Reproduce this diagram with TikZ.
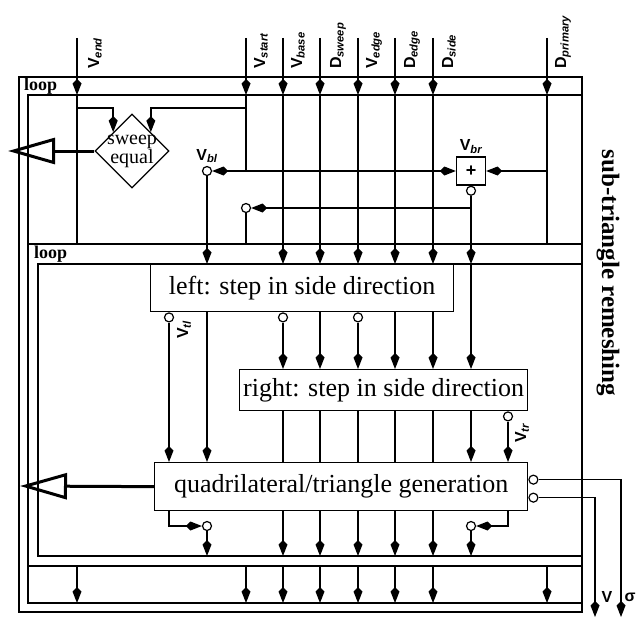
\documentclass[tikz,border=0pt]{standalone}
\usepackage{fontspec}
\setmainfont{Liberation Serif}
\setsansfont{Liberation Sans}
\usetikzlibrary{arrows.meta,positioning,shapes.geometric}

\newcommand{\sig}[2]{#1\textsubscript{\itshape #2}}

\begin{document}
\begin{tikzpicture}[
  x=1pt, y=-1pt,
  box/.style={draw, line width=1.3pt, anchor=north west, inner sep=0pt,
              font=\fontsize{26}{28}\selectfont},
  bubble/.style={draw, circle, fill=white, line width=1.2pt, minimum size=9pt,
                 inner sep=0pt},
  wire/.style={line width=1.4pt},
  arrow/.style={wire, -{Kite[length=16pt, width=9pt, inset=4.5pt]}},
  loopframe/.style={line width=1.4pt},
  outarrow/.style={line width=3pt, -{Triangle[open, length=47pt, width=26pt]}},
  sig/.style={font=\fontsize{16}{18}\selectfont\sffamily\bfseries, inner sep=0pt},
  inlabel/.style={sig, rotate=90, anchor=base west},
  looplabel/.style={font=\fontsize{18}{18}\selectfont\bfseries, inner sep=0pt,
                    anchor=west}
]
\useasboundingbox (0,0) rectangle (636,618);

% input columns and rows
\coordinate (inEnd)   at (77,38);
\coordinate (inStart) at (246,38);
\coordinate (inBase)  at (283,38);
\coordinate (inSweep) at (320,38);
\coordinate (inVedge) at (358,38);
\coordinate (inDedge) at (395,38);
\coordinate (inSide)  at (433,38);
\coordinate (inPrim)  at (547,38);
\coordinate (colTl) at (169,0);
\coordinate (colTr) at (508,0);
\coordinate (bandA) at (0,95);
\coordinate (bandB) at (0,244);
\coordinate (bandC) at (0,264);
\coordinate (bandD) at (0,556);
\coordinate (bandE) at (0,566);
\coordinate (bandF) at (0,603);
\coordinate (rowSw) at (0,108);
\coordinate (rowLv) at (0,208);
\coordinate (rowQ)  at (0,526);

% loop frames
\coordinate (outerNW) at (19,77);
\coordinate (outerSE) at (582,612);
\coordinate (bodyA) at (28,95);
\coordinate (bodyB) at (38,264);
\draw[loopframe] (outerNW) rectangle (outerSE);
\draw[loopframe] (outerSE |- bandA) -- (bodyA) -- (bodyA |- bandF) -- (outerSE |- bandF);
\draw[loopframe] (bodyA |- bandB) -- (outerSE |- bandB);
\draw[loopframe] (bodyA |- bandE) -- (outerSE |- bandE);
\draw[loopframe] (outerSE |- bandC) -- (bodyB) -- (bodyB |- bandD) -- (outerSE |- bandD);
\node[looplabel] (loopA) at (24,86) {loop};
\node[looplabel] (loopB) at (34,254) {loop};
\node[font=\fontsize{25}{26}\selectfont\bfseries, rotate=-90] (title) at (608,273)
  {sub-triangle remeshing};

% inputs
\node[inlabel] (lEnd)   at (99,69)  {\sig{V}{end}};
\node[inlabel] (lStart) at (265,69) {\sig{V}{start}};
\node[inlabel] (lBase)  at (302,69) {\sig{V}{base}};
\node[inlabel] (lSweep) at (341,69) {\sig{D}{sweep}};
\node[inlabel] (lVedge) at (377,69) {\sig{V}{edge}};
\node[inlabel] (lDedge) at (415,69) {\sig{D}{edge}};
\node[inlabel] (lSide)  at (453,69) {\sig{D}{side}};
\node[inlabel] (lPrim)  at (566,69) {\sig{D}{primary}};
\foreach \c in {inEnd,inStart,inBase,inSweep,inVedge,inDedge,inSide,inPrim}
  \draw[arrow] (\c) -- (\c |- bandA);

% sweep test and corner vertices
\node[diamond, draw, line width=1.3pt, minimum size=74pt, inner sep=0pt] (sweep)
  at (132,151) {};
\node[font=\fontsize{20}{18}\selectfont, align=center] (sweepTxt) at (sweep) {sweep\\equal};
\draw[arrow] (inEnd |- rowSw) -| (sweep.north west);
\draw[arrow] (inStart |- rowSw) -| (sweep.north east);
\coordinate (exitA) at (8,151);
\draw[outarrow] (sweep.west) -- (exitA);

\node[draw, line width=1.3pt, minimum width=29pt, minimum height=28pt, inner sep=0pt,
      font=\fontsize{18}{18}\selectfont\sffamily\bfseries] (plus) at (471,171) {+};
\node[sig, above=3pt of plus] (lBr) {\sig{V}{br}};
\node[bubble, anchor=north] (br) at (plus.south) {};
\node[bubble] (bl) at (207,171) {};
\node[sig, above=3pt of bl] (lBl) {\sig{V}{bl}};
\coordinate (jStart) at (inStart |- plus);
\draw[wire] (inStart |- bandA) -- (jStart);
\draw[arrow] (jStart) -- (bl);
\draw[arrow] (jStart) -- (plus);
\draw[arrow] (inPrim |- plus) -- (plus);
\draw[wire] (inPrim |- bandA) -- (inPrim |- bandB);
\draw[wire] (inEnd |- bandA) -- (inEnd |- bandB);

\node[bubble] (lv) at (inStart |- rowLv) {};
\coordinate (jBr) at (br |- rowLv);
\draw[wire] (br) -- (jBr);
\draw[arrow] (jBr) -- (lv);
\draw[wire] (lv) -- (lv |- bandB);
\draw[arrow] (jBr) -- (br |- bandC);
\draw[arrow] (bl) -- (bl |- bandC);
\foreach \c in {inBase,inSweep,inVedge,inDedge,inSide}
  \draw[arrow] (\c |- bandA) -- (\c |- bandC);

% inner loop
\node[box, minimum width=303pt, minimum height=47pt] (lbox) at (150,264)
  {left: step in side direction};
\node[box, minimum width=288pt, minimum height=41pt] (rbox) at (239,369)
  {right: step in side direction};
\node[box, minimum width=373pt, minimum height=48pt] (qbox) at (154,462)
  {quadrilateral/triangle generation};

\node[bubble, anchor=north] (tl) at (lbox.south -| colTl) {};
\node[sig, rotate=90, anchor=north west] (lTl) at (177,339) {\sig{V}{tl}};
\node[bubble, anchor=north] (lo1) at (lbox.south -| inBase) {};
\node[bubble, anchor=north] (lo2) at (lbox.south -| inVedge) {};
\draw[arrow] (tl) -- (tl |- qbox.north);
\draw[arrow] (lbox.south -| bl) -- (bl |- qbox.north);
\draw[arrow] (lo1) -- (lo1 |- rbox.north);
\draw[arrow] (lo2) -- (lo2 |- rbox.north);
\foreach \c in {inSweep,inDedge,inSide}
  \draw[arrow] (lbox.south -| \c) -- (\c |- rbox.north);
\draw[arrow] (br |- bandC) -- (br |- rbox.north);

\node[bubble, anchor=north] (tr) at (rbox.south -| colTr) {};
\node[sig, rotate=90, anchor=north west] (lTr) at (515,443) {\sig{V}{tr}};
\foreach \c in {inBase,inSweep,inVedge,inDedge,inSide}
  \draw[wire] (rbox.south -| \c) -- (\c |- qbox.north);
\draw[arrow] (rbox.south -| br) -- (br |- qbox.north);
\draw[arrow] (tr) -- (tr |- qbox.north);

\node[bubble] (qL) at (bl |- rowQ) {};
\node[bubble] (qR) at (br |- rowQ) {};
\draw[arrow] (qbox.south -| tl) |- (qL);
\draw[arrow] (qbox.south -| tr) |- (qR);
\draw[arrow] (qL) -- (qL |- bandD);
\draw[arrow] (qR) -- (qR |- bandD);
\foreach \c in {inBase,inSweep,inVedge,inDedge,inSide}
  \draw[arrow] (qbox.south -| \c) -- (\c |- bandD);
\coordinate (exitB) at (20,486);
\draw[outarrow] (qbox.west) -- (exitB);

% results
\node[bubble, anchor=west] (qSig) at ([yshift=7pt]qbox.east) {};
\node[bubble, anchor=west] (qV) at ([yshift=-11pt]qbox.east) {};
\coordinate (outSig) at (621,617);
\coordinate (outV) at (595,617);
\draw[arrow] (qSig) -| (outSig);
\draw[arrow] (qV) -| (outV);
\node[sig] (lV) at (607,597) {V};
\node[sig] (lSig) at (630,597) {σ};

\foreach \c in {inEnd,inStart,inBase,inSweep,inVedge,inDedge,inSide,inPrim}
  \draw[arrow] (\c |- bandE) -- (\c |- bandF);
\end{tikzpicture}
\end{document}
